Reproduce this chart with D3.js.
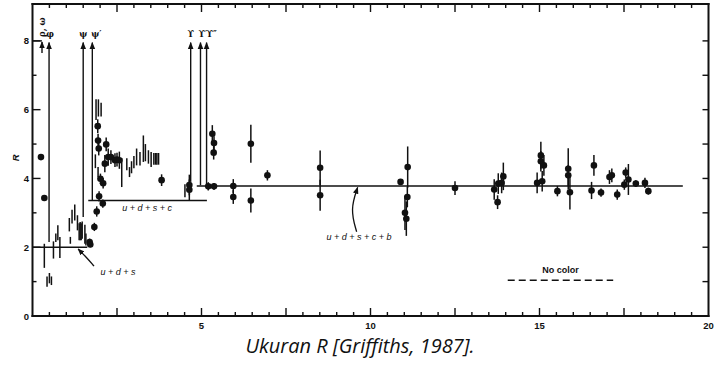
<!DOCTYPE html>
<html>
<head>
<meta charset="utf-8">
<script src="https://cdn.jsdelivr.net/npm/d3@7"></script>
<style>
  body { margin: 0; background: #fff; }
  svg text { fill: #111; }
</style>
</head>
<body>
<svg id="chart" width="715" height="365"></svg>
<script>
// measured points: x (axis units), R, error
var dotX   = [0.25, 0.35, 1.69, 1.71, 1.83, 1.90, 1.97, 2.08, 2.01, 2.09, 1.93, 1.94, 1.96, 2.18, 2.14, 2.24, 2.32, 2.44, 2.50, 2.57, 3.82,
              4.64, 4.64, 5.20, 5.37, 5.32, 5.37, 5.36, 5.94, 5.94, 6.46, 6.46, 6.95, 8.51, 8.51, 10.89, 11.10, 11.09, 11.02, 11.06, 12.50,
              13.66, 13.78, 13.88, 13.93, 13.76, 15.04, 15.04, 15.13, 14.93, 15.08, 15.53, 15.85, 15.85, 15.90,
              16.61, 16.54, 16.82, 17.07, 17.14, 17.30, 17.51, 17.55, 17.63, 17.85, 18.12, 18.22];
var dotR   = [4.62, 3.43, 2.15, 2.08, 2.59, 3.04, 3.48, 3.27, 3.99, 3.86, 5.52, 5.10, 4.87, 4.99, 4.43, 4.62, 4.62, 4.53, 4.55, 4.53, 3.95,
              3.81, 3.67, 3.77, 3.77, 5.30, 5.03, 4.75, 3.78, 3.46, 5.01, 3.36, 4.09, 4.31, 3.51, 3.90, 4.33, 3.46, 3.00, 2.83, 3.72,
              3.68, 3.85, 3.87, 4.06, 3.31, 4.67, 4.50, 4.38, 3.87, 3.92, 3.63, 4.28, 4.09, 3.60,
              4.38, 3.65, 3.59, 4.04, 4.09, 3.53, 3.82, 4.17, 3.97, 3.85, 3.87, 3.63];
var dotErr = [0, 0, 0.10, 0.08, 0.12, 0.15, 0.15, 0.12, 0.15, 0.15, 0.2, 0.2, 0.2, 0.2, 0.25, 0.25, 0.2, 0.2, 0.2, 0.25, 0.17,
              0.3, 0.3, 0.12, 0.1, 0.25, 0.2, 0.2, 0.2, 0.2, 0.55, 0.35, 0.15, 0.5, 0.45, 0, 0.6, 0.3, 0.5, 0.5, 0.2,
              0.3, 0.3, 0.3, 0.4, 0.2, 0.4, 0.3, 0.3, 0.3, 0.3, 0.15, 0.6, 0.3, 0.5,
              0.3, 0.25, 0.12, 0.2, 0.2, 0.15, 0.15, 0.15, 0.45, 0.1, 0.15, 0.1];

// measurements drawn only as bars
var barX  = [0.35, 0.43, 0.50, 0.56, 0.62, 0.69, 0.75, 0.81, 1.09, 1.12, 1.17, 1.25, 1.33, 1.38, 1.41, 1.44, 1.47, 1.55, 1.58,
             1.88, 1.95, 2.03, 1.86, 1.94, 2.64, 2.79, 2.87, 2.93, 3.00, 3.08, 3.18, 3.28, 3.34, 3.43, 3.51, 3.59, 3.64, 3.68, 3.73, 4.51];
var barLo = [1.40, 0.85, 0.95, 0.90, 1.67, 2.15, 2.20, 1.69, 2.46, 2.10, 2.69, 2.78, 2.49, 2.20, 2.20, 2.20, 2.25, 2.10, 2.05,
             5.70, 5.80, 5.80, 4.30, 4.04, 3.75, 4.24, 4.04, 4.15, 4.30, 4.38, 4.38, 4.48, 4.50, 4.43, 4.33, 4.40, 4.40, 4.40, 4.40, 3.45];
var barHi = [2.10, 1.15, 1.25, 1.15, 2.17, 2.40, 2.64, 2.30, 2.85, 2.30, 3.09, 3.24, 2.93, 2.70, 2.73, 2.70, 2.75, 2.65, 2.40,
             6.30, 6.30, 6.20, 4.70, 4.33, 4.59, 4.59, 4.33, 4.50, 4.65, 4.87, 4.77, 5.25, 5.00, 4.82, 4.77, 4.74, 4.74, 4.74, 4.74, 3.83];

// resonances
var resName = ["φ", "ψ", "ψ′", "ϒ", "ϒ′", "ϒ″"];
var resX    = [0.49, 1.50, 1.77, 4.68, 4.97, 5.15];
var resLo   = [2.15, 2.88, 3.36, 3.90, 3.80, 3.80];

// quark-model predictions
var thLabel = ["u + d + s", "u + d + s + c", "u + d + s + c + b"];
var thR     = [2.0, 3.36, 3.78];
var thFrom  = [0, 1.65, 4.86];
var thTo    = [1.62, 5.16, 19.24];

var xTickLabels = [5, 10, 15, 20];
var yTickLabels = [0, 2, 4, 6, 8];

var svg = d3.select("#chart");
var ink = "#111";

var x = d3.scaleLinear().domain([0, 20]).range([32.5, 708.5]);
var y = d3.scaleLinear().domain([0, 9]).range([316, 6.5]);
var frameTop = 4, frameBottom = 316;
var left = x(0), right = x(20);

// frame and ticks as small filled boxes: [x, y, w, h]
var boxes = [
  [left - 1, frameTop - 1, right - left + 2, 2],
  [left - 1, frameBottom - 1, right - left + 2, 2],
  [left - 1, frameTop - 1, 2, frameBottom - frameTop + 2],
  [right - 1, frameTop - 1, 2, frameBottom - frameTop + 2]
];
d3.range(0.5, 20, 0.5).forEach(function(v) {
  var len = (v % 2.5 === 0) ? 8 : 4;
  boxes.push([x(v) - 0.7, frameBottom - len, 1.4, len]);
  boxes.push([x(v) - 0.7, frameTop, 1.4, len]);
});
d3.range(1, 9).forEach(function(v) {
  var len = (v % 2 === 0) ? 8 : 4;
  boxes.push([left, y(v) - 0.7, len, 1.4]);
  boxes.push([right - 6, y(v) - 0.7, 6, 1.4]);
});
svg.append("g").selectAll("rect").data(boxes).enter().append("rect")
  .attr("x", function(d) { return d[0]; }).attr("y", function(d) { return d[1]; })
  .attr("width", function(d) { return d[2]; }).attr("height", function(d) { return d[3]; })
  .attr("fill", ink);

// tick labels
svg.selectAll(".ylab").data(yTickLabels).enter().append("text")
  .attr("x", 29).attr("y", function(d) { return y(d) + 3.5; })
  .attr("text-anchor", "end").attr("font-family", "Liberation Sans")
  .attr("font-weight", "bold").attr("font-size", 9.5).text(function(d) { return d; });
svg.selectAll(".xlab").data(xTickLabels).enter().append("text")
  .attr("x", function(d) { return x(d); }).attr("y", 329)
  .attr("text-anchor", "middle").attr("font-family", "Liberation Sans")
  .attr("font-weight", "bold").attr("font-size", 9.5).text(function(d) { return d; });
svg.append("text").attr("transform", "translate(19," + y(4.6) + ") rotate(-90)")
  .attr("text-anchor", "middle").attr("font-family", "Liberation Sans")
  .attr("font-style", "italic").attr("font-weight", "bold").attr("font-size", 9.5).text("R");

// arrow head marker
svg.append("defs").append("marker").attr("id", "head")
  .attr("viewBox", "0 0 10 10").attr("refX", 9).attr("refY", 5)
  .attr("markerWidth", 7).attr("markerHeight", 7).attr("orient", "auto-start-reverse")
  .attr("markerUnits", "userSpaceOnUse")
  .append("path").attr("d", "M0,1 L10,5 L0,9 Z").attr("fill", ink);

// resonance arrows
svg.selectAll(".res").data(resX).enter().append("line")
  .attr("x1", function(d) { return x(d); }).attr("x2", function(d) { return x(d); })
  .attr("y1", function(d, i) { return y(resLo[i]); }).attr("y2", y(7.95))
  .attr("stroke", ink).attr("stroke-width", 1.4).attr("marker-end", "url(#head)");
var resOff = [1, 0, 4, 0, 2.5, 5];
svg.selectAll(".resl").data(resName).enter().append("text")
  .attr("x", function(d, i) { return x(resX[i]) + resOff[i]; })
  .attr("y", 37).attr("text-anchor", "middle")
  .attr("font-family", "DejaVu Serif").attr("font-size", 8.5).attr("font-weight", "bold")
  .text(function(d) { return d; });
// rho, omega
svg.append("line").attr("x1", 42).attr("x2", 42).attr("y1", y(7.65)).attr("y2", y(7.97))
  .attr("stroke", ink).attr("stroke-width", 1.4).attr("marker-end", "url(#head)");
svg.append("line").attr("x1", left).attr("x2", 42).attr("y1", y(8)).attr("y2", y(8))
  .attr("stroke", ink).attr("stroke-width", 1.3);
svg.append("text").attr("transform", "translate(45,37) rotate(-90)")
  .attr("font-family", "DejaVu Serif").attr("font-size", 8.5).attr("font-weight", "bold").text("ρ, ω");

// theory lines
svg.selectAll(".th").data(thR).enter().append("line")
  .attr("x1", function(d, i) { return x(thFrom[i]); }).attr("x2", function(d, i) { return x(thTo[i]); })
  .attr("y1", function(d) { return y(d); }).attr("y2", function(d) { return y(d); })
  .attr("stroke", ink).attr("stroke-width", 1.5);
var thPos = [[2.53, 1.19], [3.39, 3.05], [9.66, 2.2]];
svg.selectAll(".thl").data(thLabel).enter().append("text")
  .attr("x", function(d, i) { return x(thPos[i][0]); })
  .attr("y", function(d, i) { return y(thPos[i][1]); })
  .attr("text-anchor", "middle").attr("font-family", "Liberation Sans")
  .attr("font-style", "italic").attr("font-size", 9).text(function(d) { return d; });

var curve = d3.line().curve(d3.curveBasis).x(function(d) { return x(d[0]); }).y(function(d) { return y(d[1]); });
svg.append("path").attr("d", curve([[1.82, 1.45], [1.6, 1.7], [1.35, 1.95]]))
  .attr("fill", "none").attr("stroke", ink).attr("stroke-width", 1.3).attr("marker-end", "url(#head)");
svg.append("path").attr("d", curve([[9.59, 2.45], [9.4, 3.1], [9.62, 3.74]]))
  .attr("fill", "none").attr("stroke", ink).attr("stroke-width", 1.3).attr("marker-end", "url(#head)");

// no colour line
svg.append("line").attr("x1", x(14.06)).attr("x2", x(17.18)).attr("y1", y(1.04)).attr("y2", y(1.04))
  .attr("stroke", ink).attr("stroke-width", 1.5).attr("stroke-dasharray", "7,4");
svg.append("text").attr("x", x(15.62)).attr("y", y(1.25))
  .attr("text-anchor", "middle").attr("font-family", "Liberation Sans")
  .attr("font-weight", "bold").attr("font-size", 9).text("No color");

// bars without points
svg.selectAll(".bar").data(barX).enter().append("line")
  .attr("x1", function(d) { return x(d); }).attr("x2", function(d) { return x(d); })
  .attr("y1", function(d, i) { return y(barLo[i]); }).attr("y2", function(d, i) { return y(barHi[i]); })
  .attr("stroke", ink).attr("stroke-width", 1.5);

// points with error bars
svg.selectAll(".err").data(dotX).enter().append("line")
  .attr("x1", function(d) { return x(d); }).attr("x2", function(d) { return x(d); })
  .attr("y1", function(d, i) { return y(dotR[i] - dotErr[i]); })
  .attr("y2", function(d, i) { return y(dotR[i] + dotErr[i]); })
  .attr("stroke", ink).attr("stroke-width", 1.5);
svg.selectAll(".dot").data(dotX).enter().append("circle")
  .attr("cx", function(d) { return x(d); }).attr("cy", function(d, i) { return y(dotR[i]); })
  .attr("r", 3.3).attr("fill", ink);

// caption
svg.append("text").attr("x", 360).attr("y", 353).attr("text-anchor", "middle")
  .attr("font-family", "Open Sans").attr("font-style", "italic").attr("font-size", 20)
  .text("Ukuran R [Griffiths, 1987].");
</script>
</body>
</html>
